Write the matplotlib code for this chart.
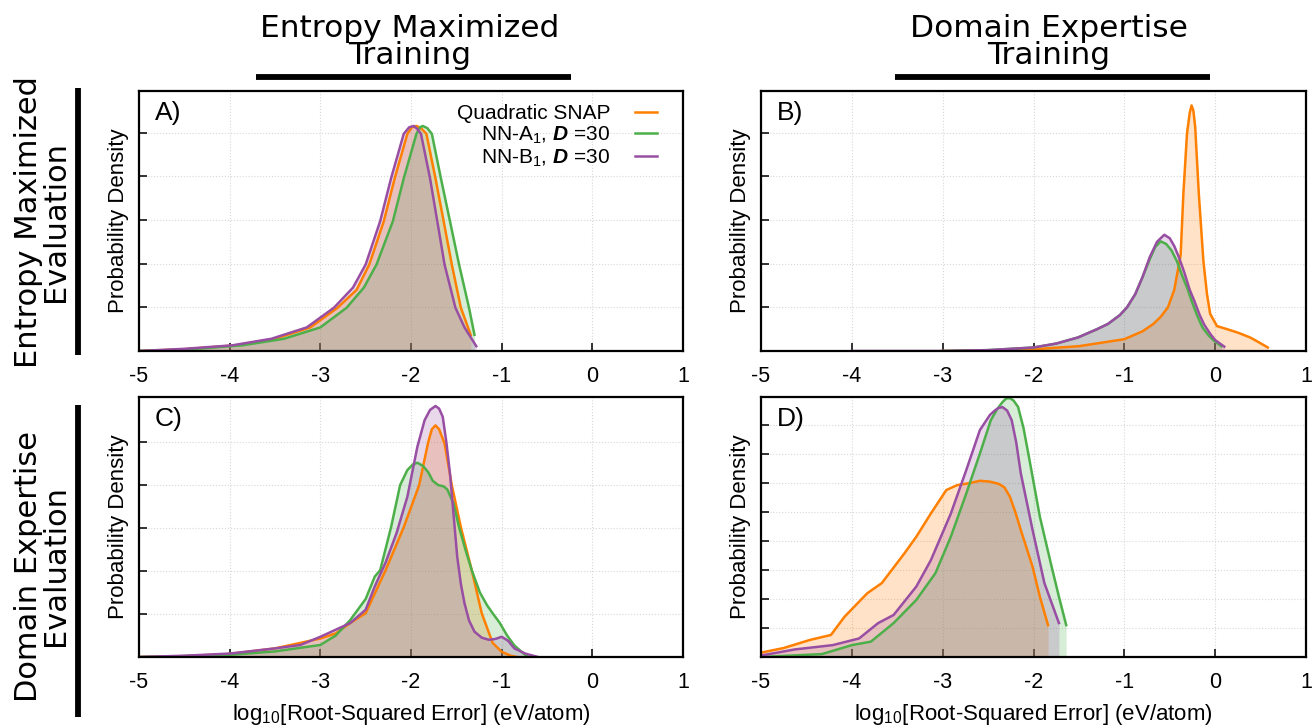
import matplotlib
matplotlib.use("Agg")
import matplotlib.pyplot as plt
from matplotlib.lines import Line2D

plt.rcParams['font.family'] = ['Liberation Sans', 'DejaVu Sans']
plt.rcParams['mathtext.fontset'] = 'custom'
plt.rcParams['mathtext.rm'] = 'Liberation Sans'
plt.rcParams['mathtext.it'] = 'Liberation Sans:italic'
plt.rcParams['mathtext.bf'] = 'Liberation Sans:bold'
plt.rcParams['mathtext.bfit'] = 'Liberation Sans:bold:italic'

# ---------------- data (density in tick units) ----------------
series_names = ["Quadratic SNAP", r"NN-A$_1$, $\boldsymbol{D}$ =30", r"NN-B$_1$, $\boldsymbol{D}$ =30"]
series_colors = ["#ff7f00", "#4daf4a", "#984ea3"]

# Panel A
A_snap_x = [-5.0, -4.5, -3.93, -3.5, -3.11, -2.81, -2.6, -2.46, -2.30, -2.18, -2.04, -1.99, -1.94, -1.89, -1.83, -1.73, -1.64, -1.55, -1.45, -1.34]
A_snap_y = [0.0, 0.04, 0.13, 0.28, 0.54, 0.99, 1.4, 1.98, 2.97, 3.95, 4.97, 5.12, 5.15, 5.1, 4.97, 3.95, 2.97, 1.98, 0.99, 0.36]
A_nna_x = [-5.0, -4.5, -3.86, -3.4, -3.0, -2.71, -2.52, -2.38, -2.20, -2.08, -1.94, -1.90, -1.87, -1.82, -1.77, -1.67, -1.57, -1.47, -1.36, -1.30]
A_nna_y = [0.0, 0.03, 0.13, 0.28, 0.54, 0.99, 1.45, 1.98, 2.97, 3.95, 4.97, 5.12, 5.15, 5.1, 4.97, 3.95, 2.97, 1.98, 0.99, 0.37]
A_nnb_x = [-5.0, -4.5, -3.97, -3.54, -3.15, -2.85, -2.64, -2.50, -2.34, -2.22, -2.08, -2.02, -1.97, -1.93, -1.89, -1.79, -1.71, -1.63, -1.51, -1.41, -1.28]
A_nnb_y = [0.0, 0.05, 0.13, 0.28, 0.54, 0.99, 1.45, 1.98, 2.97, 3.95, 4.97, 5.12, 5.15, 5.08, 4.97, 3.95, 2.97, 1.98, 0.99, 0.54, 0.11]

# Panel B
B_snap_x = [-3.0, -2.5, -2.0, -1.5, -1.0, -0.8, -0.68, -0.6, -0.52, -0.45, -0.38, -0.35, -0.31, -0.28, -0.26, -0.24, -0.22, -0.18, -0.13, -0.09, -0.055, 0.02, 0.13, 0.25, 0.385, 0.48, 0.58]
B_snap_y = [0.0, 0.01, 0.04, 0.11, 0.27, 0.45, 0.62, 0.78, 1.0, 1.4, 2.2, 3.6, 4.98, 5.45, 5.62, 5.5, 5.13, 3.6, 2.07, 1.3, 0.85, 0.57, 0.5, 0.42, 0.31, 0.2, 0.08]
B_nna_x = [-3.0, -2.5, -2.0, -1.75, -1.51, -1.3, -1.18, -1.05, -0.97, -0.88, -0.8, -0.72, -0.66, -0.6, -0.54, -0.48, -0.42, -0.37, -0.3, -0.26, -0.2, -0.14, -0.07, -0.01, 0.07]
B_nna_y = [0.0, 0.02, 0.08, 0.17, 0.31, 0.5, 0.62, 0.82, 1.0, 1.3, 1.69, 2.1, 2.38, 2.51, 2.45, 2.3, 2.05, 1.76, 1.4, 1.15, 0.82, 0.54, 0.35, 0.23, 0.11]
B_nnb_x = [-4.0, -3.0, -2.5, -2.0, -1.75, -1.51, -1.3, -1.18, -1.05, -0.97, -0.88, -0.8, -0.72, -0.64, -0.56, -0.5, -0.45, -0.4, -0.34, -0.28, -0.23, -0.17, -0.12, -0.05, 0.0, 0.1]
B_nnb_y = [0.0, 0.0, 0.02, 0.08, 0.17, 0.31, 0.5, 0.62, 0.82, 1.0, 1.3, 1.69, 2.15, 2.5, 2.66, 2.58, 2.4, 2.15, 1.8, 1.4, 1.15, 0.82, 0.6, 0.38, 0.25, 0.1]

# Panel C
C_snap_x = [-5.0, -4.5, -4.0, -3.5, -3.0, -2.83, -2.67, -2.5, -2.28, -2.08, -1.91, -1.81, -1.77, -1.73, -1.69, -1.63, -1.55, -1.45, -1.33, -1.22, -1.1, -1.0, -0.9, -0.83]
C_snap_y = [0.0, 0.02, 0.07, 0.2, 0.43, 0.55, 0.79, 1.02, 2.02, 3.02, 4.0, 5.0, 5.3, 5.39, 5.3, 4.97, 4.0, 3.02, 2.02, 1.02, 0.33, 0.12, 0.03, 0.0]
C_nna_x = [-5.0, -4.5, -4.0, -3.5, -3.0, -2.83, -2.67, -2.5, -2.4, -2.34, -2.22, -2.12, -2.04, -1.98, -1.93, -1.87, -1.81, -1.76, -1.7, -1.64, -1.6, -1.53, -1.47, -1.4, -1.33, -1.24, -1.16, -1.1, -1.02, -0.94, -0.86, -0.78, -0.71]
C_nna_y = [0.0, 0.02, 0.05, 0.13, 0.28, 0.5, 0.86, 1.35, 1.87, 2.02, 3.02, 4.0, 4.35, 4.48, 4.52, 4.45, 4.3, 4.1, 4.0, 3.97, 3.9, 3.57, 3.02, 2.5, 2.02, 1.5, 1.2, 1.02, 0.79, 0.5, 0.27, 0.12, 0.0]
C_nnb_x = [-5.0, -4.5, -4.0, -3.5, -3.22, -3.0, -2.67, -2.5, -2.4, -2.28, -2.16, -2.04, -1.93, -1.85, -1.79, -1.73, -1.69, -1.65, -1.61, -1.57, -1.53, -1.49, -1.45, -1.41, -1.36, -1.3, -1.22, -1.14, -1.07, -1.0, -0.93, -0.86, -0.74, -0.6]
C_nnb_y = [0.0, 0.03, 0.08, 0.2, 0.28, 0.47, 0.79, 1.1, 1.64, 2.2, 2.88, 3.73, 4.89, 5.51, 5.75, 5.84, 5.78, 5.59, 5.0, 4.27, 3.3, 2.33, 1.7, 1.25, 0.85, 0.59, 0.45, 0.4, 0.42, 0.47, 0.38, 0.2, 0.08, 0.0]

# Panel D
D_snap_x = [-5.0, -4.75, -4.46, -4.23, -4.08, -3.83, -3.67, -3.42, -3.29, -3.13, -2.96, -2.84, -2.7, -2.59, -2.48, -2.38, -2.32, -2.26, -2.2, -2.14, -2.07, -2.01, -1.93, -1.84]
D_snap_y = [0.15, 0.31, 0.59, 0.76, 1.39, 2.2, 2.55, 3.58, 4.15, 4.95, 5.76, 5.93, 6.0, 6.08, 6.05, 5.97, 5.85, 5.53, 5.0, 4.38, 3.7, 3.11, 2.08, 1.1]
D_nna_x = [-5.0, -4.33, -4.0, -3.79, -3.54, -3.29, -3.08, -2.91, -2.74, -2.59, -2.47, -2.4, -2.34, -2.3, -2.26, -2.22, -2.17, -2.11, -2.05, -1.93, -1.8, -1.72, -1.64]
D_nna_y = [0.0, 0.1, 0.41, 0.53, 1.17, 1.97, 2.89, 4.15, 5.64, 7.02, 8.17, 8.55, 8.8, 8.92, 8.93, 8.85, 8.63, 7.9, 6.9, 4.84, 3.11, 2.08, 1.1]
D_nnb_x = [-5.0, -4.63, -4.21, -3.92, -3.71, -3.54, -3.29, -3.13, -2.91, -2.74, -2.59, -2.48, -2.42, -2.38, -2.34, -2.29, -2.24, -2.19, -2.14, -2.01, -1.88, -1.72]
D_nnb_y = [0.05, 0.26, 0.41, 0.64, 1.17, 1.45, 2.43, 3.34, 4.95, 6.45, 7.83, 8.35, 8.52, 8.6, 8.62, 8.5, 8.17, 7.4, 6.34, 4.38, 2.55, 1.17]

panel_letters = ["A)", "B)", "C)", "D)"]
panel_ymax = [5.95, 5.95, 6.05, 8.97]
panel_nticks = [5, 5, 5, 8]
x_ticks = [-5, -4, -3, -2, -1, 0, 1]
col_titles = ["Entropy Maximized\nTraining", "Domain Expertise\nTraining"]
row_titles = ["Entropy Maximized\nEvaluation", "Domain Expertise\nEvaluation"]
xlabel_text = r"log$_{10}$[Root-Squared Error] (eV/atom)"
ylabel_text = "Probability Density"

panels = [
    [(A_snap_x, A_snap_y), (A_nna_x, A_nna_y), (A_nnb_x, A_nnb_y)],
    [(B_snap_x, B_snap_y), (B_nna_x, B_nna_y), (B_nnb_x, B_nnb_y)],
    [(C_snap_x, C_snap_y), (C_nna_x, C_nna_y), (C_nnb_x, C_nnb_y)],
    [(D_snap_x, D_snap_y), (D_nna_x, D_nna_y), (D_nnb_x, D_nnb_y)],
]

# ---------------- figure ----------------
W, H = 1313, 727
fig = plt.figure(figsize=(W / 100, H / 100), dpi=100)

def fx(px):
    return px / W

def fy(py):
    return 1 - py / H

lefts = [139, 761, 139, 761]
rights = [683, 1306, 683, 1306]
tops = [91, 91, 397, 397]
bottoms = [351, 351, 657, 657]

title_font = ['DejaVu Sans']

for i in range(4):
    ax = fig.add_axes([fx(lefts[i]), fy(bottoms[i]), fx(rights[i] - lefts[i]),
                       (bottoms[i] - tops[i]) / H])
    for (xs, ys), c in zip(panels[i], series_colors):
        ax.fill_between(xs, ys, 0, color=c, alpha=0.22, linewidth=0)
    for (xs, ys), c, name in zip(panels[i], series_colors, series_names):
        ax.plot(xs, ys, color=c, lw=1.8, label=name, solid_joinstyle='round')
    ax.set_xlim(-5, 1)
    ax.set_ylim(0, panel_ymax[i])
    ax.set_xticks(x_ticks)
    ax.set_xticklabels([str(t) for t in x_ticks], fontsize=15.5)
    ax.set_yticks(list(range(1, panel_nticks[i] + 1)))
    ax.set_yticklabels([])
    ax.tick_params(axis='both', direction='in', length=6, width=1.3, color='#222222')
    ax.tick_params(axis='x', pad=11)
    ax.grid(True, linestyle=':', color='#d8d8d8', linewidth=0.8)
    ax.set_axisbelow(True)
    for sp in ax.spines.values():
        sp.set_linewidth(1.6)
    ax.set_ylabel(ylabel_text, fontsize=16, labelpad=4)
    if i >= 2:
        ax.set_xlabel(xlabel_text, fontsize=16, labelpad=6)
    ax.text(0.029, 0.962, panel_letters[i], transform=ax.transAxes, fontsize=19,
            va='top', ha='left')
    if i == 0:
        handles = [Line2D([], [], color=c, lw=1.8) for c in series_colors]
        ax.legend(handles, series_names, loc='upper right', markerfirst=False,
                  frameon=False, fontsize=15, handlelength=1.05, handletextpad=1.2,
                  labelspacing=0.08, borderpad=0.0, borderaxespad=0.0,
                  bbox_to_anchor=(0.952, 0.95))

# column titles and bars
col_centers = [410, 1049]
bar_spans = [(256, 571), (895, 1210)]
for cx, t, (b0, b1) in zip(col_centers, col_titles, bar_spans):
    fig.text(fx(cx), fy(42), t, ha='center', va='center', fontsize=22.5,
             family=title_font, linespacing=0.9)
    fig.add_artist(Line2D([fx(b0), fx(b1)], [fy(77), fy(77)], color='black', lw=4.2,
                          solid_capstyle='butt'))

# row titles and bars
row_centers = [222, 566]
row_bars = [(88, 355), (405, 717)]
for cy, t, (b0, b1) in zip(row_centers, row_titles, row_bars):
    fig.text(fx(42), fy(cy), t, ha='center', va='center', fontsize=22,
             family=title_font, rotation=90, linespacing=0.9)
    fig.add_artist(Line2D([fx(78), fx(78)], [fy(b0), fy(b1)], color='black', lw=4.2,
                          solid_capstyle='butt'))

fig.savefig("out.png", dpi=100)
